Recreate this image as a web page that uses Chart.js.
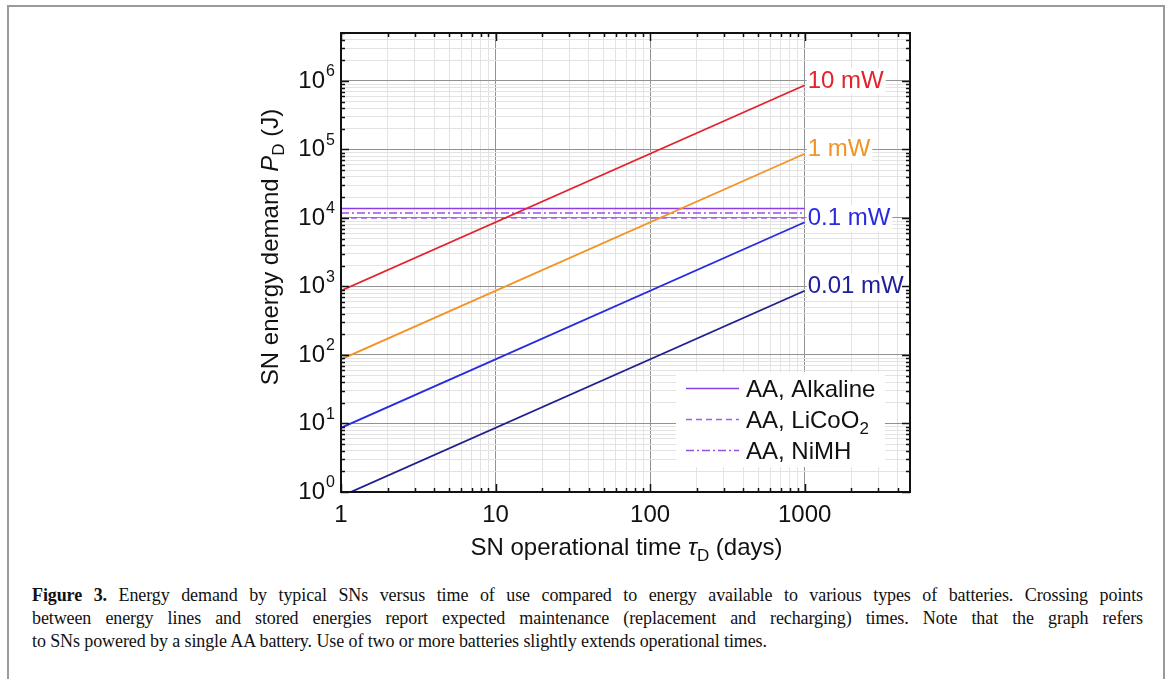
<!DOCTYPE html>
<html>
<head>
<meta charset="utf-8">
<script src="https://cdn.jsdelivr.net/npm/chart.js@4.4.0/dist/chart.umd.min.js"></script>
<style>
  body { margin: 0; background: #fff; width: 1170px; height: 679px; overflow: hidden; position: relative; }
  #frame { position: absolute; left: 7px; top: 5px; width: 1154px; height: 700px; border: 2px solid #9a9a9a; border-bottom: none; }
  #wrap { position: absolute; left: 0; top: 0; width: 1170px; height: 570px; }
  #caption { position: absolute; left: 32px; top: 584px; width: 1111px; font-family: "Liberation Serif", serif; font-size: 18px; line-height: 23px; color: #111; letter-spacing: -0.1px; }
  #caption div { white-space: nowrap; }
  #caption .j { white-space: normal; text-align: justify; text-align-last: justify; }
</style>
</head>
<body>
<div id="frame"></div>
<div id="wrap"><canvas id="energyChart" width="1170" height="570"></canvas></div>
<div id="caption">
  <div class="j"><b>Figure 3.</b> Energy demand by typical SNs versus time of use compared to energy available to various types of batteries. Crossing points</div>
  <div class="j">between energy lines and stored energies report expected maintenance (replacement and recharging) times. Note that the graph refers</div>
  <div>to SNs powered by a single AA battery. Use of two or more batteries slightly extends operational times.</div>
</div>
<script>
// operational time (days) at the ends of each line
const days = [1, 1000];
// energy demand (J) for each node power
const e10mW = [864, 864000];
const e1mW = [86.4, 86400];
const e01mW = [8.64, 8640];
const e001mW = [0.864, 864];
const powerLabels = ["10 mW", "1 mW", "0.1 mW", "0.01 mW"];
// stored energy of one AA battery (J)
const alkaline = [13700, 13700];
const licoo2 = [10000, 10000];
const nimh = [11800, 11800];
const xTickLabels = ["1", "10", "100", "1000"];
const yTickExponents = ["0", "1", "2", "3", "4", "5", "6"];

const SANS = '"Liberation Sans", Arial, sans-serif';

function pts(ys) {
  return days.map((d, i) => ({ x: d, y: ys[i] }));
}

// 1..9 x 10^k ticks, used for grid and inner tick marks
function logTicks(scale) {
  const t = [];
  for (let e = 0; Math.pow(10, e) <= scale.max; e++) {
    for (let m = 1; m < 10; m++) {
      const v = m * Math.pow(10, e);
      if (v >= scale.min && v <= scale.max) t.push({ value: v, major: m === 1 });
    }
  }
  scale.ticks = t;
}

function gridColor(c) {
  return c.tick && c.tick.major ? "#929292" : "#e3e3e3";
}

// text made of pieces: [text, style], style = "" | "i" | "sub"
function richText(ctx, parts, x, y, align) {
  const fonts = { "": "24px " + SANS, i: "italic 24px " + SANS, sub: "17px " + SANS };
  let w = 0;
  parts.forEach(p => { ctx.font = fonts[p[1]]; w += ctx.measureText(p[0]).width; });
  let cx = align === "center" ? x - w / 2 : x;
  ctx.textAlign = "left";
  ctx.textBaseline = "alphabetic";
  parts.forEach(p => {
    ctx.font = fonts[p[1]];
    ctx.fillText(p[0], cx, y + (p[1] === "sub" ? 6 : 0));
    cx += ctx.measureText(p[0]).width;
  });
}

const decorations = {
  id: "decorations",
  afterDatasetsDraw(chart) {
    const ctx = chart.ctx, xs = chart.scales.x, ys = chart.scales.y;
    ctx.save();
    // power labels at the end of each demand line
    ctx.font = "24px " + SANS;
    ctx.textBaseline = "middle";
    ctx.textAlign = "left";
    for (let i = 0; i < 4; i++) {
      const ds = chart.data.datasets[i];
      const last = ds.data[ds.data.length - 1];
      const px = xs.getPixelForValue(last.x) + 3;
      const py = ys.getPixelForValue(last.y) - 4;
      const w = ctx.measureText(powerLabels[i]).width;
      ctx.fillStyle = "#fff";
      ctx.fillRect(px - 1, py - 13, w + 3, 26);
      ctx.fillStyle = ds.labelColor;
      ctx.fillText(powerLabels[i], px, py);
    }
    // legend for the batteries
    ctx.fillStyle = "#fff";
    ctx.fillRect(676, 372, 209, 95);
    const rows = [388, 419, 450];
    const items = [
      [["AA, Alkaline", ""]],
      [["AA, LiCoO", ""], ["2", "sub"]],
      [["AA, NiMH", ""]]
    ];
    for (let i = 0; i < 3; i++) {
      const ds = chart.data.datasets[4 + i];
      ctx.strokeStyle = ds.borderColor;
      ctx.lineWidth = ds.borderWidth;
      ctx.setLineDash(ds.borderDash || []);
      ctx.beginPath();
      ctx.moveTo(686, rows[i] + 0.5);
      ctx.lineTo(739, rows[i] + 0.5);
      ctx.stroke();
      ctx.setLineDash([]);
      ctx.fillStyle = "#111";
      richText(ctx, items[i], 746, rows[i] + 9, "left");
    }
    ctx.restore();
  },
  afterDraw(chart) {
    const ctx = chart.ctx, a = chart.chartArea, xs = chart.scales.x, ys = chart.scales.y;
    ctx.save();
    ctx.strokeStyle = "#111";
    ctx.lineWidth = 1.5;
    ctx.beginPath();
    xs.ticks.forEach(t => {
      const p = Math.round(xs.getPixelForValue(t.value)) + 0.5;
      const L = t.major ? 8 : 4;
      ctx.moveTo(p, a.bottom); ctx.lineTo(p, a.bottom - L);
      ctx.moveTo(p, a.top); ctx.lineTo(p, a.top + L);
    });
    ys.ticks.forEach(t => {
      const p = Math.round(ys.getPixelForValue(t.value)) + 0.5;
      const L = t.major ? 8 : 4;
      ctx.moveTo(a.left, p); ctx.lineTo(a.left + L, p);
      ctx.moveTo(a.right, p); ctx.lineTo(a.right - L, p);
    });
    ctx.stroke();
    ctx.lineWidth = 2;
    ctx.strokeRect(a.left, a.top, a.right - a.left, a.bottom - a.top);

    ctx.fillStyle = "#111";
    // x tick labels
    ctx.font = "24px " + SANS;
    ctx.textAlign = "center";
    ctx.textBaseline = "middle";
    xTickLabels.forEach(l => {
      ctx.fillText(l, xs.getPixelForValue(Number(l)), a.bottom + 23);
    });
    // y tick labels, 10 with superscript
    yTickExponents.forEach(e => {
      const py = ys.getPixelForValue(Math.pow(10, Number(e)));
      ctx.font = "24px " + SANS;
      ctx.textAlign = "right";
      ctx.textBaseline = "middle";
      ctx.fillText("10", a.left - 16, py);
      ctx.font = "16px " + SANS;
      ctx.textAlign = "left";
      ctx.fillText(e, a.left - 15, py - 9);
    });
    // axis titles
    richText(ctx, [["SN operational time ", ""], ["\u03C4", "i"], ["D", "sub"], [" (days)", ""]],
      (a.left + a.right) / 2 + 1, 555, "center");
    ctx.translate(278, 247);
    ctx.rotate(-Math.PI / 2);
    richText(ctx, [["SN energy demand ", ""], ["P", "i"], ["D", "sub"], [" (J)", ""]], 0, 0, "center");
    ctx.restore();
  }
};

new Chart(document.getElementById("energyChart"), {
  type: "line",
  data: {
    datasets: [
      { label: "10 mW", data: pts(e10mW), borderColor: "#e3222c", labelColor: "#e3222c" },
      { label: "1 mW", data: pts(e1mW), borderColor: "#f39326", labelColor: "#f39326" },
      { label: "0.1 mW", data: pts(e01mW), borderColor: "#2a2ade", labelColor: "#2a2ade" },
      { label: "0.01 mW", data: pts(e001mW), borderColor: "#20208c", labelColor: "#20209a" },
      { label: "AA, Alkaline", data: pts(alkaline), borderColor: "#8a3fe6", borderWidth: 1.5 },
      { label: "AA, LiCoO2", data: pts(licoo2), borderColor: "#a25ee9", borderWidth: 1.5, borderDash: [6, 4] },
      { label: "AA, NiMH", data: pts(nimh), borderColor: "#9550e8", borderWidth: 1.5, borderDash: [8, 3, 2, 3] }
    ]
  },
  options: {
    responsive: false,
    animation: false,
    devicePixelRatio: 1,
    layout: { padding: { left: 341, top: 33, right: 260, bottom: 78 } },
    elements: {
      point: { radius: 0 },
      line: { borderWidth: 1.8, tension: 0, fill: false }
    },
    plugins: { legend: { display: false }, tooltip: { enabled: false } },
    scales: {
      x: {
        type: "logarithmic", min: 1, max: 4800,
        afterBuildTicks: logTicks,
        ticks: { display: false },
        grid: { drawTicks: false, color: gridColor, lineWidth: 1 },
        border: { display: false }
      },
      y: {
        type: "logarithmic", min: 1, max: 5000000,
        afterBuildTicks: logTicks,
        ticks: { display: false },
        grid: { drawTicks: false, color: gridColor, lineWidth: 1 },
        border: { display: false }
      }
    }
  },
  plugins: [decorations]
});
</script>
</body>
</html>
